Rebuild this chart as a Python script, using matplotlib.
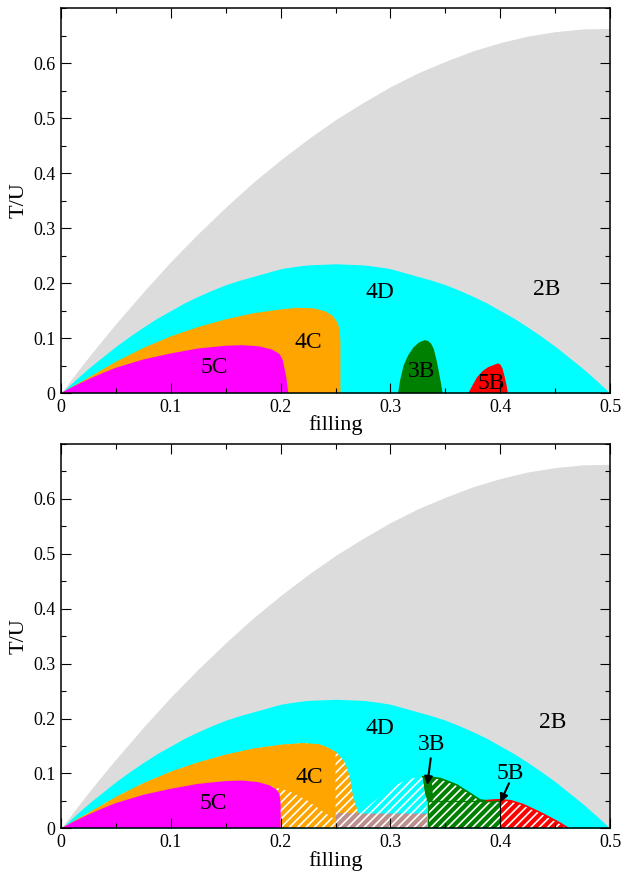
import matplotlib.pyplot as plt
from matplotlib.ticker import MultipleLocator, FormatStrFormatter

plt.rcParams['font.family'] = ['Liberation Serif', 'DejaVu Serif']
plt.rcParams['hatch.linewidth'] = 1.2

# outer 2B region (gray) and 4D dome (cyan), same in both panels
gray_n = [0, 0.0125, 0.025, 0.0375, 0.05, 0.075, 0.1, 0.125, 0.15, 0.175, 0.2, 0.225, 0.25,
          0.275, 0.3, 0.325, 0.35, 0.375, 0.4, 0.425, 0.45, 0.475, 0.5]
gray_T = [0, 0.033, 0.065, 0.096, 0.126, 0.184, 0.239, 0.290, 0.338, 0.383, 0.424, 0.462, 0.497,
          0.528, 0.557, 0.582, 0.603, 0.622, 0.637, 0.649, 0.657, 0.662, 0.663]
cyan_n = [0, 0.0125, 0.025, 0.0375, 0.05, 0.0625, 0.075, 0.0875, 0.1, 0.1125, 0.125,
          0.1375, 0.15, 0.1625, 0.175, 0.1875, 0.2, 0.2125, 0.225, 0.2375, 0.25,
          0.2625, 0.275, 0.2875, 0.3, 0.3125, 0.325, 0.3375, 0.35, 0.3625, 0.375,
          0.3875, 0.4, 0.4125, 0.425, 0.4375, 0.45, 0.4625, 0.475, 0.4875, 0.5]
cyan_T = [0, 0.023, 0.045, 0.065, 0.085, 0.103, 0.120, 0.136, 0.150, 0.164, 0.176,
          0.187, 0.197, 0.205, 0.212, 0.219, 0.226, 0.230, 0.233, 0.234, 0.235,
          0.234, 0.233, 0.230, 0.226, 0.219, 0.212, 0.205, 0.197, 0.187, 0.176,
          0.164, 0.150, 0.136, 0.120, 0.103, 0.085, 0.065, 0.045, 0.023, 0]

# top panel
orange_top_n = [0, 0.0125, 0.025, 0.05, 0.075, 0.1, 0.125, 0.15, 0.175, 0.2, 0.215, 0.23,
                0.24, 0.247, 0.252, 0.254, 0.2545, 0.2545]
orange_top_T = [0, 0.014, 0.028, 0.057, 0.082, 0.103, 0.12, 0.134, 0.145, 0.152, 0.155, 0.154,
                0.149, 0.141, 0.128, 0.112, 0.09, 0]
magenta_top_n = [0, 0.0125, 0.025, 0.0375, 0.05, 0.075, 0.1, 0.125, 0.15, 0.165, 0.18, 0.192,
                 0.199, 0.202, 0.205, 0.207]
magenta_top_T = [0, 0.013, 0.025, 0.036, 0.046, 0.061, 0.072, 0.081, 0.086, 0.087, 0.085, 0.079,
                 0.071, 0.06, 0.03, 0]
green_top_n = [0.307, 0.309, 0.312, 0.316, 0.321, 0.326, 0.331, 0.334, 0.337, 0.3395,
               0.342, 0.344, 0.346, 0.3475]
green_top_T = [0, 0.025, 0.05, 0.068, 0.083, 0.092, 0.096, 0.095, 0.09, 0.08,
               0.06, 0.04, 0.018, 0]
red_top_n = [0.371, 0.375, 0.379, 0.384, 0.389, 0.394, 0.398, 0.4, 0.402, 0.404, 0.406, 0.407]
red_top_T = [0, 0.015, 0.029, 0.04, 0.047, 0.051, 0.054, 0.052, 0.045, 0.03, 0.012, 0]

# bottom panel
orange_bot_n = [0, 0.0125, 0.025, 0.05, 0.075, 0.1, 0.125, 0.15, 0.175, 0.2, 0.22, 0.235,
                0.243, 0.251, 0.2587, 0.263, 0.266, 0.271]
orange_bot_T = [0, 0.014, 0.028, 0.057, 0.082, 0.103, 0.12, 0.134, 0.145, 0.152, 0.155, 0.153,
                0.147, 0.138, 0.12, 0.094, 0.058, 0.027]
under4c_n = [0.193, 0.2086, 0.2238, 0.2389, 0.251]   # top of hatched patch below 4C
under4c_T = [0.076, 0.0667, 0.0515, 0.030, 0.016]
magenta_bot_n = [0, 0.0125, 0.025, 0.0375, 0.05, 0.075, 0.1, 0.125, 0.15, 0.165, 0.18, 0.19,
                 0.196, 0.199, 0.2, 0.2]
magenta_bot_T = [0, 0.013, 0.025, 0.036, 0.046, 0.061, 0.072, 0.081, 0.086, 0.087, 0.084, 0.078,
                 0.071, 0.062, 0.045, 0]
brown_n = [0.25, 0.333]
brown_T = [0.027, 0.027]
cyanhump_n = [0.272, 0.285, 0.301, 0.314, 0.322, 0.327, 0.333]
cyanhump_T = [0.027, 0.049, 0.074, 0.088, 0.092, 0.093, 0.094]
greenhump_n = [0.3294, 0.3376, 0.3458, 0.3604, 0.3725, 0.3816, 0.388, 0.4]
greenhump_T = [0.094, 0.093, 0.0905, 0.079, 0.0637, 0.0516, 0.05, 0.05]
greenbox_n = [0.3346, 0.4]
greenbox_T = [0.05, 0.05]
green3b_n = [0.3294, 0.3376, 0.339, 0.3346, 0.3315]
green3b_T = [0.094, 0.0905, 0.0515, 0.047, 0.0637]
redhump_n = [0.4, 0.41, 0.421, 0.437, 0.454, 0.462]
redhump_T = [0.052, 0.05, 0.043, 0.028, 0.01, 0]
redline_n = [0.388, 0.394, 0.4]
redline_T = [0.0505, 0.0515, 0.052]

C_GRAY, C_CYAN, C_ORANGE = '#dcdcdc', '#00ffff', '#ffa500'
C_MAG, C_GREEN, C_RED, C_BROWN = '#ff00ff', '#008000', '#ff0000', '#bc8f8f'
HATCH = '////'

fig = plt.figure(figsize=(6.24, 8.73), dpi=100)
ax1 = fig.add_axes([0.0978, 0.5498, 0.8798, 0.441])
ax2 = fig.add_axes([0.0978, 0.0512, 0.8798, 0.4402])


def hatched(ax, n, T, color):
    ax.fill(n, T, facecolor=color, edgecolor='white', linewidth=0, hatch=HATCH)


def base(ax):
    ax.fill_between(gray_n, 0, gray_T, color=C_GRAY, lw=0)
    ax.fill_between(cyan_n, 0, cyan_T, color=C_CYAN, lw=0)


def style(ax):
    ax.set_xlim(0, 0.5)
    ax.set_ylim(0, 0.7)
    ax.set_xticks([0, 0.1, 0.2, 0.3, 0.4, 0.5])
    ax.set_yticks([0, 0.1, 0.2, 0.3, 0.4, 0.5, 0.6])
    ax.xaxis.set_minor_locator(MultipleLocator(0.05))
    ax.yaxis.set_minor_locator(MultipleLocator(0.05))
    ax.xaxis.set_major_formatter(FormatStrFormatter('%g'))
    ax.yaxis.set_major_formatter(FormatStrFormatter('%g'))
    ax.tick_params(which='both', direction='in', top=True, right=True, width=0.8,
                   labelsize=13, pad=4)
    ax.tick_params(which='major', length=7)
    ax.tick_params(which='minor', length=3.5)
    for s in ax.spines.values():
        s.set_linewidth(1.1)
    ax.set_xlabel('filling', fontsize=16, labelpad=0)
    ax.set_ylabel('T/U', fontsize=16, labelpad=3)


# ---- top panel
base(ax1)
ax1.fill(orange_top_n, orange_top_T, color=C_ORANGE, lw=0)
ax1.fill(magenta_top_n, magenta_top_T, color=C_MAG, lw=0)
ax1.fill(green_top_n, green_top_T, color=C_GREEN, lw=0)
ax1.fill(red_top_n, red_top_T, color=C_RED, lw=0)
for txt, x, y in [('4D', 0.2905, 0.182), ('2B', 0.4426, 0.189), ('4C', 0.225, 0.091),
                  ('5C', 0.140, 0.047), ('3B', 0.328, 0.04), ('5B', 0.392, 0.018)]:
    ax1.text(x, y, txt, fontsize=17, ha='center', va='center')
style(ax1)

# ---- bottom panel
base(ax2)
hatched(ax2, orange_bot_n + [0.25, 0.25, 0], orange_bot_T + [0.027, 0, 0], C_ORANGE)
solid_n = [n for n in orange_bot_n if n <= 0.245] + [0.25, 0.25] + under4c_n[::-1][1:]
solid_T = [t for n, t in zip(orange_bot_n, orange_bot_T) if n <= 0.245] + [0.139, 0.016] \
    + under4c_T[::-1][1:]
ax2.fill(solid_n, solid_T, color=C_ORANGE, lw=0)
ax2.fill(magenta_bot_n, magenta_bot_T, color=C_MAG, lw=0)
ax2.fill_between(brown_n, 0, brown_T, facecolor=C_BROWN, edgecolor='white', lw=0, hatch=HATCH)
hatched(ax2, cyanhump_n + [0.333], cyanhump_T + [0.027], C_CYAN)
hatched(ax2, greenhump_n + [0.4, 0.3346, 0.3346, 0.333],
        greenhump_T + [0, 0, 0.05, 0.05], C_GREEN)
ax2.plot(greenhump_n, greenhump_T, color=C_GREEN, lw=1.2)
ax2.plot(greenbox_n, greenbox_T, color=C_GREEN, lw=1.0)
ax2.plot([0.3346, 0.3346], [0, 0.05], color=C_GREEN, lw=0.8)
ax2.fill(green3b_n, green3b_T, color=C_GREEN, lw=0)
hatched(ax2, redhump_n + [0.4], redhump_T + [0], C_RED)
ax2.plot(redline_n + redhump_n, redline_T + redhump_T, color=C_RED, lw=1.2)
ax2.plot([0.4, 0.4], [0, 0.05], color='k', lw=0.8)
for txt, x, y in [('4D', 0.2905, 0.181), ('2B', 0.448, 0.192), ('4C', 0.226, 0.092),
                  ('5C', 0.139, 0.046), ('3B', 0.3376, 0.152), ('5B', 0.409, 0.100)]:
    ax2.text(x, y, txt, fontsize=17, ha='center', va='center')
arrow = dict(arrowstyle='-|>', color='k', lw=1.5, mutation_scale=12, shrinkA=0, shrinkB=0)
ax2.annotate('', xy=(0.3336, 0.079), xytext=(0.3367, 0.1275), arrowprops=arrow)
ax2.annotate('', xy=(0.400, 0.047), xytext=(0.408, 0.082), arrowprops=arrow)
style(ax2)

fig.savefig('out.png', dpi=100)
